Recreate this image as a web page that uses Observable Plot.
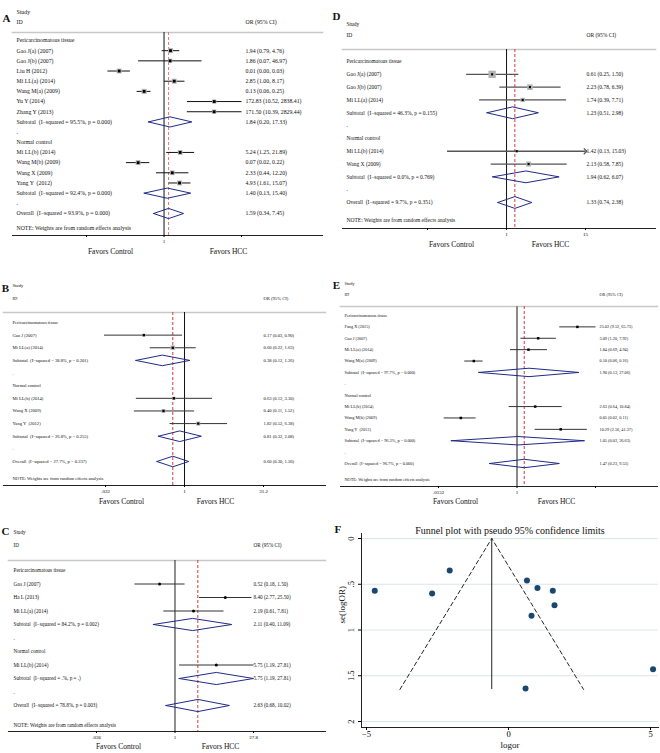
<!DOCTYPE html>
<html><head><meta charset="utf-8">
<script src="https://cdn.jsdelivr.net/npm/d3@7"></script>
<script src="https://cdn.jsdelivr.net/npm/@observablehq/plot@0.6"></script>
<style>
body{margin:0;background:#fff;}
#fig{position:relative;width:660px;height:753px;background:#fff;overflow:hidden;}
#fig svg{position:absolute;overflow:visible;background:transparent;}
#fig text{white-space:pre;}
</style></head><body><div id="fig"></div>
<script>
const SERIF = '"Liberation Serif","Times New Roman",serif';
const NOTE = "NOTE: Weights are from random effects analysis";
const FAVORS = ["Favors Control", "Favors HCC"];

// ---------- Panel A ----------
const idsA = ["Pericarcinomatous tissue","Gao J(a) (2007)","Gao J(b) (2007)","Liu H (2012)","Mi LL(a) (2014)","Wang M(a) (2009)","Yu Y (2014)","Zhang Y (2013)","Subtotal  (I−squared = 95.5%, p = 0.000)",".","Normal control","Mi LL(b) (2014)","Wang M(b) (2009)","Wang X (2009)","Yang Y  (2012)","Subtotal  (I−squared = 92.4%, p = 0.000)",".","Overall  (I−squared = 93.9%, p = 0.000)"];
const orA = [null,1.94,1.86,0.01,2.85,0.13,172.83,171.50,1.84,null,null,5.24,0.07,2.33,4.93,1.40,null,1.59];
const loA = [null,0.79,0.07,0.003,1.00,0.06,10.52,10.39,0.20,null,null,1.25,0.02,0.44,1.61,0.13,null,0.34];
const hiA = [null,4.76,46.97,0.03,8.17,0.25,2838.41,2829.44,17.33,null,null,21.89,0.22,12.20,15.07,15.40,null,7.45];
const wA  = [null,9.3,6.6,8.6,9.1,9.5,6.8,6.8,null,null,null,8.3,8.9,8.1,8.8,null,null,null];
const ticksA = [0.00035, 1, 2838];
const tickLabelsA = [".00035", "1", "2838"];

// ---------- Panel B ----------
const idsB = ["Pericarcinomatous tissue","Gao J (2007)","Mi LL(a) (2014)","Subtotal  (I−squared = 38.8%, p = 0.201)",".","Normal control","Mi LL(b) (2014)","Wang X (2009)","Yang Y  (2012)","Subtotal  (I−squared = 26.8%, p = 0.255)",".","Overall  (I−squared = 27.7%, p = 0.237)"];
const orB = [null,0.17,0.60,0.38,null,null,0.63,0.40,1.82,0.81,null,0.60];
const loB = [null,0.03,0.22,0.12,null,null,0.12,0.11,0.52,0.32,null,0.30];
const hiB = [null,0.90,1.63,1.26,null,null,3.30,1.52,6.38,2.08,null,1.20];
const wB  = [null,12,26,null,null,null,13,18,20,null,null,null];
const ticksB = [0.032, 1, 31.2];
const tickLabelsB = [".032", "1", "31.2"];

// ---------- Panel C ----------
const idsC = ["Pericarcinomatous tissue","Gao J (2007)","Ha L (2013)","Mi LL(a) (2014)","Subtotal  (I−squared = 84.2%, p = 0.002)",".","Normal control","Mi LL(b) (2014)","Subtotal  (I−squared = .%, p = .)",".","Overall  (I−squared = 78.8%, p = 0.003)"];
const orC = [null,0.52,8.40,2.19,2.11,null,null,5.75,5.75,null,2.63];
const loC = [null,0.18,2.77,0.61,0.40,null,null,1.19,1.19,null,0.68];
const hiC = [null,1.50,25.50,7.81,11.09,null,null,27.81,27.81,null,10.02];
const ticksC = [0.036, 1, 27.8];
const tickLabelsC = [".036", "1", "27.8"];

// ---------- Panel D ----------
const idsD = ["Pericarcinomatous tissue","Gao J(a) (2007)","Gao J(b) (2007)","Mi LL(a) (2014)","Subtotal  (I−squared = 46.3%, p = 0.155)",".","Normal control","Mi LL(b) (2014)","Wang X (2009)","Subtotal  (I−squared = 0.0%, p = 0.769)",".","Overall  (I−squared = 9.7%, p = 0.351)"];
const orD = [null,0.61,2.23,1.74,1.23,null,null,1.42,2.13,1.94,null,1.33];
const loD = [null,0.25,0.78,0.39,0.51,null,null,0.13,0.58,0.62,null,0.74];
const hiD = [null,1.50,6.39,7.71,2.98,null,null,15.03,7.85,6.07,null,2.38];
const wD  = [null,40,24,14,null,null,null,3,19,null,null,null];
const ticksD = [0.0665, 1, 15];
const tickLabelsD = [".0665", "1", "15"];

// ---------- Panel E ----------
const idsE = ["Pericarcinomatous tissue","Fang X (2015)","Gao J (2007)","Mi LL(a) (2014)","Wang M(a) (2009)","Subtotal  (I−squared = 97.7%, p = 0.000)",".","Normal control","Mi LL(b) (2014)","Wang M(b) (2009)","Yang Y  (2012)","Subtotal  (I−squared = 96.3%, p = 0.000)",".","Overall  (I−squared = 96.7%, p = 0.000)"];
const orE = [null,25.02,3.09,1.84,0.10,1.90,null,null,2.63,0.05,10.29,1.05,null,1.47];
const loE = [null,9.52,1.20,0.69,0.06,0.13,null,null,0.64,0.02,2.56,0.03,null,0.23];
const hiE = [null,65.73,7.92,4.94,0.16,27.06,null,null,10.84,0.11,41.37,36.63,null,9.53];
const ticksE = [0.0152, 1, 65.7];
const tickLabelsE = [".0152", "1", "65.7"];

// ---------- Panel F (funnel) ----------
const logorF = [-4.71,-2.69,-2.07,0.65,1.02,1.56,1.62,0.81,5.09,0.60];
const seF    = [0.57,0.60,0.35,0.46,0.54,0.57,0.73,0.845,1.43,1.64];
const pooledF = -0.59;
const seMaxF = 1.65;
const yTicksF = [0, 0.5, 1, 1.5, 2];
const yTickLabelsF = ["0", ".5", "1", "1.5", "2"];
const xTicksF = [-5, 0, 5];
const xTickLabelsF = ["−5", "0", "5"];

const fig = document.getElementById("fig");

function forest(c) {
  const rows = c.ids.map((id, i) => ({
    i, id, or: c.or[i], lo: c.lo[i], hi: c.hi[i], w: c.w ? c.w[i] : null,
    kind: c.or[i] == null ? "text" : /^(Subtotal|Overall)/.test(id) ? "diamond" : "study"
  }));
  const studies = rows.filter(r => r.kind === "study");
  const diamonds = rows.filter(r => r.kind === "diamond");
  const xMax = c.ticks[c.ticks.length - 1];
  const clipped = studies.filter(r => r.hi > xMax * 1.001);
  const unclipped = studies.filter(r => !(r.hi > xMax * 1.001));
  const poly = diamonds.flatMap(r => [
    {i: r.i, x: r.lo, y: r.i}, {i: r.i, x: r.or, y: r.i - c.dh},
    {i: r.i, x: r.hi, y: r.i}, {i: r.i, x: r.or, y: r.i + c.dh},
    {i: r.i, x: r.lo, y: r.i}
  ]);
  const overall = rows.find(r => /^Overall/.test(r.id)).or;
  const f2 = v => v.toFixed(2);
  const orText = rows.filter(r => r.or != null).map(r => ({i: r.i, t: `${f2(r.or)} (${f2(r.lo)}, ${f2(r.hi)})`}));
  const fs = c.fs;
  const txt = {fontFamily: SERIF, fill: "#111"};
  const marks = [
    Plot.frame({anchor: "top", stroke: "#c8c8c8", strokeWidth: 1.6}),
    Plot.frame({anchor: "bottom", stroke: "#222", strokeWidth: 1.1}),
    Plot.ruleX([1], {stroke: c.oneStroke, strokeWidth: c.oneWidth}),
    Plot.ruleX([overall], {stroke: c.redStroke, strokeWidth: 1, strokeDasharray: "3,2"}),
    Plot.axisX({ticks: c.ticks, tickFormat: d => c.tickLabels[c.ticks.indexOf(d)], tickSize: 2, tickPadding: 2, fontSize: 5, label: null, fontFamily: SERIF}),
    Plot.link(unclipped, {x1: "lo", x2: "hi", y1: "i", y2: "i", stroke: c.ciStroke, strokeWidth: c.ciWidth}),
    Plot.link(clipped, {x1: "lo", x2: () => xMax, y1: "i", y2: "i", stroke: c.ciStroke, strokeWidth: c.ciWidth, markerEnd: "arrow"}),
  ];
  if (c.w) marks.push(Plot.dot(studies.filter(r => r.w != null), {x: "or", y: "i", r: "w", symbol: "square", fill: "#b4b4b4", stroke: "none"}));
  marks.push(
    Plot.dot(studies, {x: "or", y: "i", r: c.cr, symbol: c.csym, fill: "#000", stroke: "none"}),
    Plot.line(poly, {x: "x", y: "y", z: "i", stroke: "#1f2a86", strokeWidth: 1, curve: "linear"}),
    Plot.text(rows, {y: "i", text: "id", frameAnchor: "left", textAnchor: "start", dx: c.nameX - c.ml, fontSize: fs, ...txt}),
    Plot.text(orText, {y: "i", text: "t", frameAnchor: "left", textAnchor: "start", dx: c.orX - c.ml, fontSize: fs, ...txt}),
    Plot.text(["Study"], {text: d => d, frameAnchor: "top-left", textAnchor: "start", dx: c.nameX - c.ml, dy: c.studyY - c.mt, fontSize: fs, ...txt}),
    Plot.text(["ID"], {text: d => d, frameAnchor: "top-left", textAnchor: "start", dx: c.nameX - c.ml, dy: c.idY - c.mt, fontSize: fs, ...txt}),
    Plot.text(["OR (95% CI)"], {text: d => d, frameAnchor: "top-left", textAnchor: "start", dx: c.orX - c.ml, dy: c.idY - c.mt, fontSize: fs, ...txt}),
    Plot.text([NOTE], {text: d => d, frameAnchor: "bottom-left", textAnchor: "start", dx: c.nameX - c.ml, dy: c.noteY - c.axisY, fontSize: fs, ...txt}),
    Plot.text([FAVORS[0]], {text: d => d, frameAnchor: "bottom-left", textAnchor: "middle", dx: c.fav[0] - c.ml, dy: c.favY - c.axisY, fontSize: 7.5, ...txt}),
    Plot.text([FAVORS[1]], {text: d => d, frameAnchor: "bottom-left", textAnchor: "middle", dx: c.fav[1] - c.ml, dy: c.favY - c.axisY, fontSize: 7.5, ...txt}),
    Plot.text([c.letter], {text: d => d, frameAnchor: "top-left", textAnchor: "middle", dx: c.letterX - c.ml, dy: c.letterY - c.mt, fontSize: 11, fontWeight: "bold", ...txt})
  );
  const svg = Plot.plot({
    width: c.width, height: c.height,
    marginLeft: c.ml, marginRight: c.mr, marginTop: c.mt, marginBottom: c.height - c.axisY,
    style: {fontFamily: SERIF, background: "transparent", overflow: "visible"},
    x: {type: "log", domain: [c.ticks[0], xMax], range: c.xr, axis: null},
    y: {type: "linear", domain: [0, rows.length - 1], range: c.yr, axis: null},
    r: {type: "sqrt", domain: [0, 100], range: [0, c.rmax || 0]},
    marks
  });
  svg.style.left = c.left + "px";
  svg.style.top = c.top + "px";
  fig.appendChild(svg);
}

const base = {oneStroke: "#111", oneWidth: 1, redStroke: "#d23c3c", ciStroke: "#111", ciWidth: 1, cr: 1.6, csym: "square"};

forest({...base, letter: "A", ids: idsA, or: orA, lo: loA, hi: hiA, w: wA, rmax: 9.3, ticks: ticksA, tickLabels: tickLabelsA,
  left: 0, top: 0, width: 330, height: 262, ml: 12, mr: 8, mt: 32, axisY: 235,
  xr: [86, 241], yr: [40, 213], nameX: 16, orX: 245, studyY: 9, idY: 19, noteY: 229, favY: 253, fav: [110, 228],
  letterX: 6, letterY: 14, fs: 5.8, dh: 0.5, redStroke: "#e07a7a"});

forest({...base, letter: "B", ids: idsB, or: orB, lo: loB, hi: hiB, w: wB, rmax: 5.1, ticks: ticksB, tickLabels: tickLabelsB,
  left: 0, top: 275, width: 330, height: 235, ml: 3, mr: 5, mt: 37, axisY: 210,
  xr: [105, 263], yr: [47, 186], nameX: 12, orX: 263, studyY: 8, idY: 21, noteY: 204, favY: 228, fav: [121, 215],
  letterX: 5, letterY: 9, fs: 4.6, dh: 0.42, ciStroke: "#333", cr: 1.3});

forest({...base, letter: "C", ids: idsC, or: orC, lo: loC, hi: hiC, w: null, ticks: ticksC, tickLabels: tickLabelsC,
  left: 0, top: 520, width: 330, height: 233, ml: 8, mr: 5, mt: 40, axisY: 211,
  xr: [96, 253], yr: [50, 185], nameX: 13, orX: 253, studyY: 10, idY: 23, noteY: 206, favY: 228, fav: [118, 220],
  letterX: 5, letterY: 7, fs: 5.2, dh: 0.45, ciStroke: "#333", oneStroke: "#444", oneWidth: 1.2, cr: 1.5, csym: "circle"});

forest({...base, letter: "D", ids: idsD, or: orD, lo: loD, hi: hiD, w: wD, rmax: 6.5, ticks: ticksD, tickLabels: tickLabelsD,
  left: 330, top: 0, width: 330, height: 255, ml: 12, mr: 5, mt: 49, axisY: 228,
  xr: [97, 255], yr: [61, 202], nameX: 16, orX: 256, studyY: 22, idY: 33, noteY: 221, favY: 246, fav: [121, 220],
  letterX: 6, letterY: 12, fs: 5.5, dh: 0.46, ciStroke: "#555", ciWidth: 1.3, cr: 1.2});

forest({...base, letter: "E", ids: idsE, or: orE, lo: loE, hi: hiE, w: null, ticks: ticksE, tickLabels: tickLabelsE,
  left: 330, top: 270, width: 330, height: 242, ml: 10, mr: 3, mt: 36, axisY: 216,
  xr: [108, 265], yr: [45, 193], nameX: 14, orX: 269, studyY: 11, idY: 22, noteY: 210, favY: 233, fav: [125, 226],
  letterX: 6, letterY: 11, fs: 4.3, dh: 0.37, ciStroke: "#333", oneStroke: "#8a8a8a", oneWidth: 2, cr: 1.4});

// ---------- Funnel plot ----------
(function () {
  const pts = logorF.map((x, i) => ({x, y: seF[i]}));
  const funnel = [
    {x: pooledF - 1.96 * seMaxF, y: seMaxF},
    {x: pooledF, y: 0},
    {x: pooledF + 1.96 * seMaxF, y: seMaxF}
  ];
  const W = 330, H = 241, ml = 31, mr = 2, mt = 21, mb = 26;
  const txt = {fontFamily: SERIF, fill: "#111"};
  const svg = Plot.plot({
    width: W, height: H, marginLeft: ml, marginRight: mr, marginTop: mt, marginBottom: mb,
    style: {fontFamily: SERIF, background: "transparent", overflow: "visible"},
    x: {domain: [-5, 5], range: [36, 320], axis: null},
    y: {domain: [0, 2], range: [26, 209], axis: null},
    marks: [
      Plot.gridY(yTicksF, {stroke: "#d6e6ee", strokeOpacity: 1, strokeWidth: 1}),
      Plot.frame({anchor: "left", stroke: "#222"}),
      Plot.frame({anchor: "bottom", stroke: "#222"}),
      Plot.axisY({ticks: yTicksF, tickFormat: d => yTickLabelsF[yTicksF.indexOf(d)], tickSize: 3, tickPadding: 5, tickRotate: -90, fontSize: 8.5, label: null, fontFamily: SERIF}),
      Plot.axisX({ticks: xTicksF, tickFormat: d => xTickLabelsF[xTicksF.indexOf(d)], tickSize: 3, tickPadding: 0, fontSize: 8.5, label: null, fontFamily: SERIF}),
      Plot.line(funnel, {x: "x", y: "y", stroke: "#222", strokeWidth: 1, strokeDasharray: "4,3"}),
      Plot.ruleX([pooledF], {y1: 0, y2: seMaxF, stroke: "#222", strokeWidth: 1}),
      Plot.dot(pts, {x: "x", y: "y", r: 3, fill: "#1a476f", stroke: "none"}),
      Plot.text(["Funnel plot with pseudo 95% confidence limits"], {text: d => d, frameAnchor: "top", dy: -7, fontSize: 10, ...txt}),
      Plot.text(["se(logOR)"], {text: d => d, frameAnchor: "left", dx: -19, dy: -7, rotate: -90, fontSize: 9, ...txt}),
      Plot.text(["logor"], {text: d => d, frameAnchor: "bottom", dy: 20, fontSize: 9, ...txt}),
      Plot.text(["F"], {text: d => d, frameAnchor: "top-left", dx: -27, dy: -8, fontSize: 11, fontWeight: "bold", ...txt})
    ]
  });
  svg.style.left = "330px";
  svg.style.top = "512px";
  fig.appendChild(svg);
})();
</script></body></html>
